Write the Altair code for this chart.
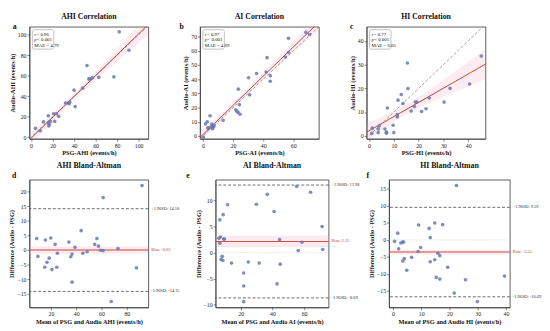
import altair as alt
import numpy as np
import pandas as pd

FONT = "Liberation Serif"
PT = "#6a78b0"
RED = "#c0392b"

# ---------------- data ----------------
# a: AHI correlation (PSG, Audio)
ahi_psg = [4.1, 8.5, 11.5, 16, 16, 16.5, 17, 18, 21, 22, 23.6, 25.7, 32, 34.5, 35.4, 36,
           40, 41, 48, 52, 53.7, 55, 57, 63, 77, 82, 91]
ahi_audio = [8.7, 6.4, 15, 21, 14, 11, 12.5, 15.5, 23, 15.5, 23, 20.4, 33.5, 33.5, 32.7, 34.4,
             46, 30, 48, 70, 57, 57, 58, 58.5, 59, 103, 85]
# b: AI correlation
ai_psg = [0.2, 1.7, 2.8, 3.2, 3.8, 4.7, 5.5, 5.9, 6.6, 6.4, 7.0, 7.4, 13.3, 21.8, 22.5, 23.3,
          23.5, 24.2, 24.6, 30.3, 31, 35.6, 42.6, 42, 44.7, 44.7, 54.7, 56.8, 56.8, 68.4, 70.8]
ai_audio = [-1, 8.5, 10, 5.7, 5.3, 14.2, 6.4, 8.3, 6.8, 5.1, 6.4, 7.2, 11, 18.5, 17.4, 16.6,
            33, 22, 15.3, 41, 29, 44, 55.2, 45, 42.5, 38.6, 55.6, 68.8, 58.8, 73, 71.5]
# c: HI correlation
hi_psg = [1.1, 1.3, 3.7, 3.7, 4.1, 6.4, 7, 7, 7.4, 9.7, 10, 11.4, 11.4, 11.7, 13, 13.7, 15.5,
          15.7, 17, 18.3, 18.7, 19.3, 21.2, 23, 24.3, 30.3, 32.7, 40.6, 45.3]
hi_audio = [1, 3.2, 1.3, 2.8, 4.1, 2.8, 1.5, 1, 11.7, 4.4, 1.3, 7.9, 8.9, 15, 17.4, 13.6, 30.7,
            19.9, 10.4, 12.3, 14.2, 14.2, 10.2, 11.4, 15.9, 14.2, 20, 21.8, 33.6]
# d: AHI Bland-Altman (mean, difference)
ahi_mean = [8.7, 9.7, 15.1, 15.6, 16.9, 18.6, 19.9, 20.8, 23.3, 24.6, 25.1, 34.2, 35.7, 36.7,
            36.7, 39, 43.9, 45.2, 48.6, 54.6, 56.3, 57.6, 59.3, 61.3, 61.3, 73, 87.6, 92, 67.7]
ahi_diff = [3.9, -2.2, -5.9, 3.4, -4.2, -2.8, 4.1, -6.7, 1.9, -5.9, -1.1, 2.7, -2.3, -1.4,
            -11, 0.9, 6.6, -1.1, -0.6, 1.9, 3.9, 1.3, -0.1, -0.2, 17.9, 0.5, -6.1, 22, -17.6]
# e: AI Bland-Altman
ai_mean = [6.1, 7.1, 6.7, 6.7, 8.2, 7.5, 8.6, 8.8, 9.2, 9.6, 11.6, 14.1, 21.8, 21.8, 21.8, 24.7,
           29.8, 31.6, 36.7, 41, 42.9, 44.9, 44.5, 55.3, 56.3, 58.6, 64.1, 71.4, 71.8]
ai_diff = [2.75, 3.0, 6.3, 1.8, -0.7, -1.3, -1.5, 7.3, 2.6, 2.6, 9.2, -2.0, -3.9, -6.4, -9.4,
           -1.8, 9.3, -2.0, 11.2, 7.9, -6.0, -2.2, 2.5, 12.7, 0.4, 2.0, 11.6, 5.0, 0.6]
# f: HI Bland-Altman
hi_mean = [0.6, 1.7, 2, 2.8, 3.4, 3.5, 4, 3.8, 4.9, 6.6, 8.9, 9.1, 9.8, 12.8, 13.2, 13.2, 14.8,
           14.8, 15.3, 15.9, 16.6, 16.6, 17.6, 19.4, 21.7, 22.5, 25.7, 29.9, 39.5]
hi_diff = [-0.4, 2, -2.6, -0.9, -0.6, -6.2, -5.5, -0.6, -8.9, -5.1, -3.4, 4.4, -2.2, 3.4, 0.7,
           -6.4, 5, -5.8, -11, -3.9, -4.6, -11.5, 4.5, -8, -15.6, 16, -11.7, -18.1, -10.6]

corr_r = ["0.96", "0.97", "0.77"]
corr_mae = ["4.79", "4.69", "6.05"]
ba_bias = [-0.02, 2.15, -3.55]
ba_upper = [14.10, 12.98, 9.59]
ba_lower = [-14.15, -8.69, -16.69]
ba_bias_ci = [1.2, 1.1, 0.7]


def fit(xs, ys, lo, hi):
    x = np.asarray(xs, float)
    y = np.asarray(ys, float)
    b, a = np.polyfit(x, y, 1)
    n = len(x)
    res = y - (a + b * x)
    s = np.sqrt((res ** 2).sum() / (n - 2))
    xm = x.mean()
    sxx = ((x - xm) ** 2).sum()
    g = np.linspace(lo, hi, 60)
    yh = a + b * g
    se = s * np.sqrt(1 / n + (g - xm) ** 2 / sxx)
    return pd.DataFrame({"x": g, "y": yh, "lo": yh - 2.05 * se, "hi": yh + 2.05 * se})


def one():
    return pd.DataFrame({"k": [0]})


def title(t):
    return alt.TitleParams(t, font=FONT, fontSize=8, fontWeight="bold", offset=2, color="#111")


def letter_mark(ch, x, y):
    return alt.Chart(one()).mark_text(font=FONT, fontSize=8, fontWeight="bold", align="left",
                                      baseline="middle", color="#111").encode(
        x=alt.value(x), y=alt.value(y), text=alt.value(ch))


def corr_panel(letter, ttl, xs, ys, xt, yt, xdom, ydom, xticks, yticks, r, mae, w, h, lx):
    def xe(f):
        return alt.X(f"{f}:Q", scale=alt.Scale(domain=xdom, nice=False, zero=False),
                     axis=alt.Axis(values=xticks, title=xt))

    def ye(f):
        return alt.Y(f"{f}:Q", scale=alt.Scale(domain=ydom, nice=False, zero=False),
                     axis=alt.Axis(values=yticks, title=yt))

    pts = pd.DataFrame({"x": xs, "y": ys})
    f = fit(xs, ys, xdom[0], xdom[1])
    lo = min(xdom[0], ydom[0])
    hi = max(xdom[1], ydom[1])
    ident = pd.DataFrame({"x": [lo, hi], "y": [lo, hi]})

    band = alt.Chart(f).mark_area(color="#f7a6bd", opacity=0.2, clip=True).encode(
        x=xe("x"), y=ye("lo"), y2="hi:Q")
    idl = alt.Chart(ident).mark_line(color="#888", strokeDash=[3, 2], strokeWidth=0.8,
                                     clip=True).encode(x=xe("x"), y=ye("y"))
    reg = alt.Chart(f).mark_line(color=RED, strokeWidth=1.0, clip=True).encode(
        x=xe("x"), y=ye("y"))
    dots = alt.Chart(pts).mark_circle(size=14, color=PT, opacity=0.85).encode(
        x=xe("x"), y=ye("y"))
    box = alt.Chart(one()).mark_rect(fill="white", stroke="#999", strokeWidth=0.6,
                                     cornerRadius=2).encode(
        x=alt.value(3), x2=alt.value(25), y=alt.value(3), y2=alt.value(23))
    tk = dict(font=FONT, fontSize=5, align="left", baseline="middle", color="#111")
    texts = [
        alt.Chart(one()).mark_text(fontStyle="italic", **tk).encode(
            x=alt.value(5), y=alt.value(7.5), text=alt.value("r")),
        alt.Chart(one()).mark_text(**tk).encode(
            x=alt.value(7.2), y=alt.value(7.5), text=alt.value(f"= {r}")),
        alt.Chart(one()).mark_text(fontStyle="italic", **tk).encode(
            x=alt.value(5), y=alt.value(13), text=alt.value("p")),
        alt.Chart(one()).mark_text(**tk).encode(
            x=alt.value(7.8), y=alt.value(13), text=alt.value("< 0.001")),
        alt.Chart(one()).mark_text(**tk).encode(
            x=alt.value(5), y=alt.value(18.5), text=alt.value(f"MAE = {mae}")),
    ]
    return alt.layer(band, idl, reg, dots, box, *texts, letter_mark(letter, lx, 0)).properties(
        width=w, height=h, title=title(ttl))


def ba_panel(letter, ttl, m, d, xt, xdom, ydom, xticks, yticks, bias, up, low, ci, w, h, lx):
    def xe(f):
        return alt.X(f"{f}:Q", scale=alt.Scale(domain=xdom, nice=False, zero=False),
                     axis=alt.Axis(values=xticks, title=xt))

    def ye(f):
        return alt.Y(f"{f}:Q", scale=alt.Scale(domain=ydom, nice=False, zero=False),
                     axis=alt.Axis(values=yticks, title="Difference (Audio - PSG)"))

    pts = pd.DataFrame({"x": m, "y": d})
    bdf = pd.DataFrame({"y": [bias - ci], "y2": [bias + ci]})
    band = alt.Chart(bdf).mark_rect(color="#f7a6bd", opacity=0.25).encode(
        x=alt.value(0), x2=alt.value(w), y=ye("y"), y2="y2:Q")
    zero = alt.Chart(pd.DataFrame({"y": [0]})).mark_rule(
        color="#bbb", strokeDash=[1, 1.5], strokeWidth=0.6).encode(y=ye("y"))
    bl = alt.Chart(pd.DataFrame({"y": [bias]})).mark_rule(
        color=RED, strokeWidth=1.1, opacity=0.85).encode(y=ye("y"))
    loa = alt.Chart(pd.DataFrame({"y": [up, low]})).mark_rule(
        color="#444", strokeDash=[3, 2], strokeWidth=0.8).encode(y=ye("y"))
    dots = alt.Chart(pts).mark_circle(size=14, color=PT, opacity=0.85).encode(
        x=xe("x"), y=ye("y"))
    lab = pd.DataFrame({
        "y": [up, bias, low],
        "t": [f"+1.96SD: {up:.2f}", f"Bias: {bias:.2f}", f"-1.96SD: {low:.2f}"],
        "c": ["#333", RED, "#333"],
    })
    labels = alt.Chart(lab).mark_text(font=FONT, fontSize=4.5, align="left",
                                      baseline="middle").encode(
        x=alt.value(w + 3), y=ye("y"), text="t:N", color=alt.Color("c:N", scale=None))
    return alt.layer(band, zero, bl, loa, dots, labels, letter_mark(letter, lx, -4)).properties(
        width=w, height=h, title=title(ttl))


pa = corr_panel("a", "AHI Correlation", ahi_psg, ahi_audio, "PSG-AHI (events/h)",
                "Audio-AHI (events/h)", [-1.5, 109], [-1.5, 108], [0, 20, 40, 60, 80, 100],
                [0, 20, 40, 60, 80, 100], corr_r[0], corr_mae[0], 122, 115, -17)
pb = corr_panel("b", "AI Correlation", ai_psg, ai_audio, "PSG-AI (events/h)",
                "Audio-AI (events/h)", [-2, 77], [-2, 77], [0, 20, 40, 60],
                [0, 10, 20, 30, 40, 50, 60, 70], corr_r[1], corr_mae[1], 122, 115, -21)
pc = corr_panel("c", "HI Correlation", hi_psg, hi_audio, "PSG-HI (events/h)",
                "Audio-HI (events/h)", [-1, 47], [-1.3, 46], [0, 10, 20, 30, 40],
                [0, 10, 20, 30, 40], corr_r[2], corr_mae[2], 122, 115, -17)

pd_ = ba_panel("d", "AHI Bland-Altman", ahi_mean, ahi_diff, "Mean of PSG and Audio AHI (events/h)",
               [3, 97], [-19.6, 24], [20, 40, 60, 80], [-15, -10, -5, 0, 5, 10, 15, 20],
               ba_bias[0], ba_upper[0], ba_lower[0], ba_bias_ci[0], 122, 131, -18)
pe = ba_panel("e", "AI Bland-Altman", ai_mean, ai_diff, "Mean of PSG and Audio AI (events/h)",
              [4, 75.5], [-10.5, 14], [20, 40, 60], [-10, -5, 0, 5, 10],
              ba_bias[1], ba_upper[1], ba_lower[1], ba_bias_ci[1], 116, 131, -30)
pf = ba_panel("f", "HI Bland-Altman", hi_mean, hi_diff, "Mean of PSG and Audio HI (events/h)",
              [-1.4, 41.4], [-19.8, 17.7], [0, 10, 20, 30, 40], [-15, -10, -5, 0, 5, 10, 15],
              ba_bias[2], ba_upper[2], ba_lower[2], ba_bias_ci[2], 124, 131, -23)

top = alt.hconcat(pa, pb, pc, spacing=30)
bottom = alt.hconcat(pd_, pe, pf, spacing=5)

chart = alt.vconcat(top, bottom, spacing=4).properties(
    padding={"left": 0, "top": 0, "right": 0, "bottom": 0}, background="white"
).configure_axis(
    labelFont=FONT, titleFont=FONT, labelFontSize=6, titleFontSize=6.5, titleFontWeight="bold",
    grid=False, tickSize=2.5, tickWidth=0.6, tickColor="#333", domainColor="#333",
    domainWidth=0.7, labelPadding=1, titlePadding=2, labelColor="#222", titleColor="#111"
).configure_view(stroke="#333", strokeWidth=0.8)

chart.save("out.html", embed_options={"renderer": "svg", "actions": False})
